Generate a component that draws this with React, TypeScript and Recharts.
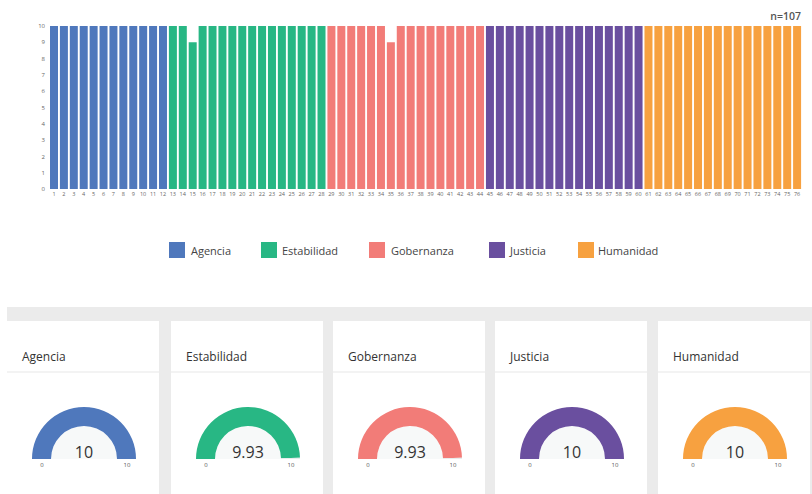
import { BarChart, Bar, XAxis, YAxis, Cell, PieChart, Pie } from 'recharts';

// dimension names and colours
const groups = ['Agencia', 'Estabilidad', 'Gobernanza', 'Justicia', 'Humanidad'];
const groupColors = ['#4f78bc', '#28b784', '#f27c78', '#6a4f9f', '#f7a140'];

// per-respondent scores, one list per dimension
const agenciaValues = [10, 10, 10, 10, 10, 10, 10, 10, 10, 10, 10, 10];
const estabilidadValues = [10, 10, 9, 10, 10, 10, 10, 10, 10, 10, 10, 10, 10, 10, 10, 10];
const gobernanzaValues = [10, 10, 10, 10, 10, 10, 9, 10, 10, 10, 10, 10, 10, 10, 10, 10];
const justiciaValues = [10, 10, 10, 10, 10, 10, 10, 10, 10, 10, 10, 10, 10, 10, 10, 10];
const humanidadValues = [10, 10, 10, 10, 10, 10, 10, 10, 10, 10, 10, 10, 10, 10, 10, 10];

const yTicks = [0, 1, 2, 3, 4, 5, 6, 7, 8, 9, 10];

// gauge averages
const gaugeValues = [10, 9.93, 9.93, 10, 10];
const gaugeMin = 0;
const gaugeMax = 10;
const sampleLabel = 'n=107';

const FONT = '"Open Sans", "Noto Sans", sans-serif';

const groupValues = [agenciaValues, estabilidadValues, gobernanzaValues, justiciaValues, humanidadValues];
const barData: { name: string; value: number; group: number }[] = [];
groupValues.forEach((vals, g) => {
  vals.forEach((v) => {
    barData.push({ name: String(barData.length + 1), value: v, group: g });
  });
});

// legend layout
const legendX = [169, 261, 369, 489, 578];
const legendTextX = [191, 282, 391, 510, 598];
// card layout
const cardX = [7, 171, 333, 495, 658];

function Gauge({ value, color }: { value: number; color: string }) {
  const ring = [{ value: value - gaugeMin }, { value: gaugeMax - value }];
  return (
    <div style={{ position: 'relative', width: 152, height: 173 }}>
      <PieChart width={152} height={173} margin={{ top: 0, right: 0, bottom: 0, left: 0 }}>
        <Pie
          data={[{ value: 1 }]}
          dataKey="value"
          cx={77}
          cy={138}
          startAngle={180}
          endAngle={0}
          innerRadius={0}
          outerRadius={33}
          fill="#f7f9f9"
          stroke="none"
          isAnimationActive={false}
        />
        <Pie
          data={ring}
          dataKey="value"
          cx={77}
          cy={138}
          startAngle={180}
          endAngle={0}
          innerRadius={33}
          outerRadius={52}
          stroke="none"
          isAnimationActive={false}
        >
          <Cell fill={color} />
          <Cell fill="#e8ecec" />
        </Pie>
      </PieChart>
      <div style={{ position: 'absolute', left: 1, width: 152, top: 120, textAlign: 'center', fontSize: 16, color: '#333' }}>
        {value}
      </div>
      <div style={{ position: 'absolute', left: 25, width: 20, top: 140, textAlign: 'center', fontSize: 6, color: '#555' }}>
        {gaugeMin}
      </div>
      <div style={{ position: 'absolute', left: 110, width: 20, top: 140, textAlign: 'center', fontSize: 6, color: '#555' }}>
        {gaugeMax}
      </div>
    </div>
  );
}

export default function App() {
  return (
    <div style={{ position: 'absolute', left: 0, top: 0, width: 812, height: 494, overflow: 'hidden', background: '#fff', fontFamily: FONT }}>
      <BarChart width={812} height={205} data={barData} margin={{ top: 26, right: 10, left: 0, bottom: 0 }} barCategoryGap="19%">
        <XAxis
          dataKey="name"
          interval={0}
          height={16}
          tickLine={false}
          axisLine={false}
          tickSize={0}
          tickMargin={3}
          tick={{ fontSize: 5.5, fill: '#666', fontFamily: FONT }}
        />
        <YAxis
          width={49}
          domain={[0, 10]}
          ticks={yTicks}
          interval={0}
          tickLine={false}
          axisLine={false}
          tickSize={2}
          tickMargin={2}
          tick={{ fontSize: 6, fill: '#666', fontFamily: FONT }}
        />
        <Bar dataKey="value" barSize={8} isAnimationActive={false}>
          {barData.map((d, i) => (
            <Cell key={i} fill={groupColors[d.group]} />
          ))}
        </Bar>
      </BarChart>

      <div style={{ position: 'absolute', right: 11, top: 9, fontSize: 10.5, color: '#555', fontWeight: 600 }}>{sampleLabel}</div>

      {groups.map((g, i) => (
        <div key={g}>
          <div style={{ position: 'absolute', left: legendX[i], top: 242, width: 16, height: 16, background: groupColors[i] }} />
          <div style={{ position: 'absolute', left: legendTextX[i], top: 243, fontSize: 11, lineHeight: '16px', color: '#444' }}>{g}</div>
        </div>
      ))}

      <div style={{ position: 'absolute', left: 7, top: 307, width: 805, height: 187, background: '#ebebeb' }} />

      {groups.map((g, i) => (
        <div key={g} style={{ position: 'absolute', left: cardX[i], top: 321, width: 152, height: 173, background: '#fff' }}>
          <div style={{ position: 'absolute', left: 15, top: 27, fontSize: 12, color: '#333' }}>{g}</div>
          <div style={{ position: 'absolute', left: 0, top: 50, width: 152, height: 2, background: '#f3f3f3' }} />
          <div style={{ position: 'absolute', left: 0, top: 0 }}>
            <Gauge value={gaugeValues[i]} color={groupColors[i]} />
          </div>
        </div>
      ))}
    </div>
  );
}
